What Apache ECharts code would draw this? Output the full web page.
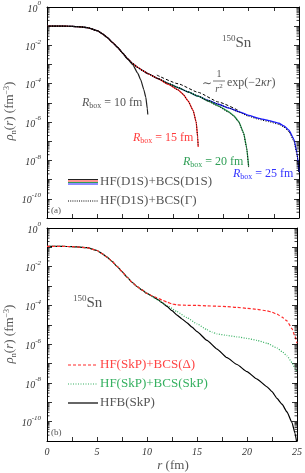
<!DOCTYPE html>
<html><head><meta charset="utf-8">
<script src="https://cdn.jsdelivr.net/npm/echarts@6/dist/echarts.min.js"></script>
<style>html,body{margin:0;padding:0;background:#fff}#c{width:305px;height:473px}</style>
</head><body><div id="c"></div>
<script>
// ---------- Panel (a): HF(D1S)+BCS(D1S), box sizes ----------
const rBox25 = [0,1,2,3,4,5,5.5,6,6.5,7,7.5,8,8.5,9,9.5,10,11,12,13,14,15,16,17,18,19,20,21,22,23,23.5,24,24.5,24.8,25];
const rhoBox25 = [0.1,0.1,0.099,0.095,0.085,0.058,0.0398,0.0251,0.0141,7.94e-3,3.98e-3,2.0e-3,1.12e-3,7.08e-4,4.79e-4,3.39e-4,1.86e-4,1.05e-4,6.31e-5,3.72e-5,2.24e-5,1.35e-5,8.51e-6,5.50e-6,3.55e-6,2.24e-6,1.58e-6,1.20e-6,8.71e-7,6.31e-7,3.80e-7,1.26e-7,2.51e-8,2.51e-9];
const rhoBox25G = [0.1,0.1,0.099,0.095,0.085,0.058,0.0398,0.0251,0.0141,7.94e-3,3.98e-3,2.0e-3,1.12e-3,7.08e-4,4.79e-4,3.39e-4,1.86e-4,1.05e-4,6.31e-5,3.72e-5,2.24e-5,1.35e-5,8.51e-6,5.50e-6,3.40e-6,2.0e-6,1.38e-6,1.05e-6,7.59e-7,5.50e-7,3.16e-7,1.0e-7,2.0e-8,2.0e-9];

const rBox20 = [0,1,2,3,4,5,5.5,6,6.5,7,7.5,8,8.5,9,9.5,10,11,12,13,14,15,16,17,18,18.5,19,19.5,19.8,20];
const rhoBox20 = [0.1,0.1,0.099,0.095,0.085,0.058,0.0398,0.0251,0.0141,7.94e-3,3.98e-3,2.0e-3,1.12e-3,7.08e-4,4.79e-4,3.39e-4,1.86e-4,1.05e-4,6.31e-5,3.72e-5,2.24e-5,1.26e-5,7.08e-6,3.55e-6,2.24e-6,1.12e-6,2.82e-7,5.01e-8,5.01e-9];
const rhoBox20G = [0.1,0.1,0.099,0.095,0.085,0.058,0.0398,0.0251,0.0141,7.94e-3,3.98e-3,2.0e-3,1.12e-3,7.08e-4,4.79e-4,3.39e-4,1.86e-4,1.05e-4,6.31e-5,3.72e-5,2.24e-5,1.20e-5,6.60e-6,3.30e-6,2.10e-6,1.05e-6,2.60e-7,4.50e-8,4.5e-9];

const rBox15 = [0,1,2,3,4,5,5.5,6,6.5,7,7.5,8,8.5,9,9.5,10,11,12,13,13.5,14,14.5,14.8,14.95,15];
const rhoBox15 = [0.1,0.1,0.099,0.095,0.085,0.058,0.0398,0.0251,0.0141,7.94e-3,3.98e-3,2.0e-3,1.12e-3,7.08e-4,4.79e-4,3.39e-4,1.86e-4,9.55e-5,4.79e-5,2.82e-5,1.26e-5,3.98e-6,1.0e-6,1.58e-7,5.01e-8];

const rBox10 = [0,1,2,3,4,5,5.5,6,6.5,7,7.5,8,8.5,9,9.3,9.6,9.8,9.95,10];
const rhoBox10 = [0.1,0.1,0.099,0.095,0.085,0.058,0.0398,0.0251,0.0141,7.94e-3,3.98e-3,1.91e-3,1.0e-3,3.55e-4,1.58e-4,5.01e-5,2.0e-5,5.01e-6,2.51e-6];

// asymptotic guide ~ 1/r^2 exp(-2 kappa r)
const rAsym = [10.9,13,15,17,19.1];
const rhoAsym = [2.82e-4,1.0e-4,3.55e-5,1.12e-5,3.80e-6];

// ---------- Panel (b): SkP ----------
const rSkP = [0,1,2,3,4,5,5.5,6,6.5,7,7.5,8,8.5,9,9.5,10,10.5,11,11.5,12,12.5,13,13.5,14,14.5,15,16,17,18,19,20,21,22,22.5,23,23.5,24,24.5,24.8,24.95];
const rhoHFB = [0.112,0.112,0.111,0.106,0.096,0.069,0.0479,0.0316,0.0191,0.0105,5.62e-3,2.95e-3,1.58e-3,9.55e-4,6.31e-4,4.17e-4,3.02e-4,2.14e-4,1.41e-4,8.91e-5,5.37e-5,3.16e-5,2.0e-5,1.26e-5,7.59e-6,4.47e-6,1.58e-6,5.62e-7,2.0e-7,8.91e-8,3.80e-8,1.58e-8,6.31e-9,3.55e-9,1.58e-9,7.94e-10,3.16e-10,8.91e-11,2.51e-11,1.0e-11];

const rBCS = [0,1,2,3,4,5,5.5,6,6.5,7,7.5,8,8.5,9,9.5,10,10.5,11,11.5,12,12.5,13,14,15,16,17,18,19,20,21,22,22.5,23,23.5,24,24.5,24.8,25];
const rhoBCSDelta = [0.112,0.112,0.111,0.106,0.096,0.069,0.0479,0.0316,0.0191,0.0105,5.62e-3,2.95e-3,1.58e-3,9.55e-4,6.31e-4,4.17e-4,3.16e-4,2.51e-4,1.91e-4,1.48e-4,1.20e-4,1.07e-4,1.02e-4,1.0e-4,9.55e-5,9.12e-5,8.71e-5,7.94e-5,7.08e-5,6.31e-5,5.25e-5,4.47e-5,3.55e-5,2.51e-5,1.58e-5,6.31e-6,2.51e-6,1.12e-6];

const rBCS2 = [0,1,2,3,4,5,5.5,6,6.5,7,7.5,8,8.5,9,9.5,10,11,12,13,14,15,16,16.5,17,18,19,20,21,22,23,23.5,24,24.5,24.8,25];
const rhoBCSSkP = [0.112,0.112,0.111,0.106,0.096,0.069,0.0479,0.0316,0.0191,0.0105,5.62e-3,2.95e-3,1.58e-3,9.55e-4,6.31e-4,4.17e-4,2.0e-4,1.0e-4,4.79e-5,2.34e-5,1.12e-5,5.62e-6,4.17e-6,3.39e-6,2.82e-6,2.40e-6,2.0e-6,1.58e-6,1.12e-6,6.31e-7,4.17e-7,2.51e-7,1.12e-7,5.62e-8,3.55e-8];

const xTickLabels = ['0','5','10','15','20','25'];

// ---------- helpers ----------
const zip = (xs, ys) => xs.map((x, i) => [x, ys[i]]);
const SERIF = '"Liberation Serif","DejaVu Serif",serif';
const TXT = '#555';
const RED = '#ff2a2a', GREEN = '#2e9e55', BLUE = '#1a1aff';

const minorVals = [];
for (let k = -11; k < 0; k++) for (let m = 2; m <= 9; m++) minorVals.push(m * Math.pow(10, k));

function minorTicks(xi, yi) {
  return {
    type: 'custom', xAxisIndex: xi, yAxisIndex: yi, silent: true, clip: false, z: 10,
    data: minorVals.map(v => [0, v]),
    renderItem(params, api) {
      const v = api.value(1);
      const a = api.coord([0, v]), b = api.coord([25, v]);
      return { type: 'group', children: [
        { type: 'line', shape: { x1: a[0], y1: a[1], x2: a[0] + 2.5, y2: a[1] }, style: { stroke: '#000', lineWidth: 0.8 } },
        { type: 'line', shape: { x1: b[0] - 2.5, y1: b[1], x2: b[0], y2: b[1] }, style: { stroke: '#000', lineWidth: 0.8 } }
      ]};
    }
  };
}

function xAxis(grid, pos, showLabel) {
  return {
    type: 'value', gridIndex: grid, position: pos, min: 0, max: 25, interval: 2.5,
    axisLine: { show: true, onZero: false, lineStyle: { color: '#000', width: 1 } },
    axisTick: { show: true, inside: true, length: 4, lineStyle: { color: '#000', width: 0.8 } },
    splitLine: { show: false },
    axisLabel: {
      show: showLabel, margin: 6, color: '#333', fontFamily: SERIF, fontStyle: 'italic', fontSize: 10,
      formatter: v => (Math.abs(v / 5 - Math.round(v / 5)) < 1e-6 ? xTickLabels[Math.round(v / 5)] : '')
    }
  };
}
function yAxis(grid, pos, showLabel) {
  return {
    type: 'log', logBase: 10, gridIndex: grid, position: pos, min: 1e-11, max: 1, interval: 1, splitNumber: 20,
    axisLine: { show: true, onZero: false, lineStyle: { color: '#000', width: 1 } },
    axisTick: { show: true, inside: true, length: 5, lineStyle: { color: '#000', width: 0.8 } },
    splitLine: { show: false }, minorTick: { show: false },
    axisLabel: {
      show: showLabel, margin: 6, color: '#333', showMinLabel: true, showMaxLabel: true,
      formatter: v => {
        const e = Math.round(Math.log10(v));
        if (e % 2 !== 0) return '';
        return '{b|10}{s|' + (e === 0 ? '0' : '-' + (-e)) + '}';
      },
      rich: {
        b: { fontFamily: SERIF, fontStyle: 'italic', fontSize: 10, color: '#333', verticalAlign: 'bottom', lineHeight: 14 },
        s: { fontFamily: SERIF, fontStyle: 'italic', fontSize: 7, color: '#333', verticalAlign: 'top', lineHeight: 14 }
      }
    }
  };
}

function line(xi, yi, xs, ys, color, type, width, z) {
  return {
    type: 'line', xAxisIndex: xi, yAxisIndex: yi, data: zip(xs, ys), showSymbol: false, symbol: 'none',
    smooth: 0.15, smoothMonotone: 'x', clip: true, silent: true, z: z || 2,
    lineStyle: { color, width, type }
  };
}

const richBase = {
  i: { fontFamily: SERIF, fontStyle: 'italic', fontSize: 12 },
  n: { fontFamily: SERIF, fontSize: 12 },
  sub: { fontFamily: SERIF, fontSize: 8, padding: [6, 0, 0, 0] }
};
function colorRich(c) {
  const r = {};
  for (const k in richBase) r[k] = Object.assign({}, richBase[k], { fill: c });
  return r;
}
function rboxLabel(x, y, val, c) {
  return { type: 'text', x, y, z: 50,
    style: { text: '{i|R}{sub|box}{n| = ' + val + ' fm}', rich: colorRich(c), fill: c, verticalAlign: 'middle' } };
}
function snLabel(x, y) {
  return { type: 'text', x, y, z: 50,
    style: { text: '{s|150}{n|Sn}', fill: TXT, verticalAlign: 'middle',
      rich: { s: { fontFamily: SERIF, fontSize: 9, fill: TXT, padding: [0, 0, 8, 0] }, n: { fontFamily: SERIF, fontSize: 15, fill: TXT } } } };
}
function legendLine(x1, x2, y, color, dash, w) {
  return { type: 'line', z: 50, shape: { x1, y1: y, x2, y2: y }, style: { stroke: color, lineWidth: w || 1.2, lineDash: dash || null } };
}
function legendText(x, y, text, color) {
  return { type: 'text', x, y, z: 50, style: { text, fill: color, font: '13px ' + SERIF, verticalAlign: 'middle' } };
}
function yName(y) {
  return { type: 'text', x: 10, y, rotation: Math.PI / 2, z: 50,
    style: { text: '{i|ρ}{sub|n}{n|(}{i|r}{n|) (fm}{sup|−3}{n|)}', fill: TXT, align: 'center', verticalAlign: 'middle',
      rich: {
        i: { fontFamily: SERIF, fontStyle: 'italic', fontSize: 13, fill: TXT },
        n: { fontFamily: SERIF, fontSize: 13, fill: TXT },
        sub: { fontFamily: SERIF, fontSize: 8, fill: TXT, padding: [7, 0, 0, 0] },
        sup: { fontFamily: SERIF, fontSize: 8, fill: TXT, padding: [0, 0, 7, 0] }
      } } };
}

const chart = echarts.init(document.getElementById('c'), null, { renderer: 'canvas' });
chart.setOption({
  backgroundColor: '#fff',
  animation: false,
  grid: [
    { left: 47, right: 6, top: 5, height: 213 },
    { left: 47, right: 6, top: 228, height: 213 }
  ],
  xAxis: [xAxis(0, 'bottom', false), xAxis(0, 'top', false), xAxis(1, 'bottom', true), xAxis(1, 'top', false)],
  yAxis: [yAxis(0, 'left', true), yAxis(0, 'right', false), yAxis(1, 'left', true), yAxis(1, 'right', false)],
  series: [
    line(0, 0, rBox25, rhoBox25, BLUE, 'solid', 1.3),
    line(0, 0, rBox20, rhoBox20, GREEN, 'solid', 1.3),
    line(0, 0, rBox15, rhoBox15, RED, 'solid', 1.3),
    line(0, 0, rBox10, rhoBox10, '#222', 'solid', 1.2),
    line(0, 0, rBox25, rhoBox25G, '#000', [1, 1.5], 1, 3),
    line(0, 0, rBox20, rhoBox20G, '#000', [1, 1.5], 1, 3),
    line(0, 0, rBox15, rhoBox15, '#000', [1, 1.5], 1, 3),
    line(0, 0, rAsym, rhoAsym, '#000', [3, 2], 1, 3),
    line(2, 2, rSkP, rhoHFB, '#000', 'solid', 1.2),
    line(2, 2, rBCS2, rhoBCSSkP, '#35b060', [1, 1.5], 1.2, 3),
    line(2, 2, rBCS, rhoBCSDelta, RED, [3, 2], 1.2, 3),
    minorTicks(0, 0),
    minorTicks(2, 2)
  ],
  graphic: [
    yName(111), yName(334),
    { type: 'text', x: 173, y: 466, z: 50, style: { text: '{i|r}{n| (fm)}', fill: TXT, align: 'center', verticalAlign: 'middle',
      rich: { i: { fontFamily: SERIF, fontStyle: 'italic', fontSize: 13, fill: TXT }, n: { fontFamily: SERIF, fontSize: 13, fill: TXT } } } },
    snLabel(222, 43), snLabel(73, 303),
    // asymptote annotation
    { type: 'text', x: 202, y: 84, z: 50, style: { text: '∼', fill: TXT, font: '12px ' + SERIF, verticalAlign: 'middle' } },
    { type: 'text', x: 219, y: 74, z: 50, style: { text: '1', fill: TXT, font: '10px ' + SERIF, align: 'center', verticalAlign: 'middle' } },
    { type: 'line', z: 50, shape: { x1: 213, y1: 81, x2: 225, y2: 81 }, style: { stroke: TXT, lineWidth: 0.8 } },
    { type: 'text', x: 219, y: 89, z: 50, style: { text: '{i|r}{s|2}', fill: TXT, align: 'center', verticalAlign: 'middle',
      rich: { i: { fontFamily: SERIF, fontStyle: 'italic', fontSize: 10, fill: TXT }, s: { fontFamily: SERIF, fontSize: 7, fill: TXT, padding: [0, 0, 5, 0] } } } },
    { type: 'text', x: 227, y: 83, z: 50, style: { text: '{n|exp(−2}{i|κr}{n|)}', fill: TXT, verticalAlign: 'middle',
      rich: { i: { fontFamily: SERIF, fontStyle: 'italic', fontSize: 12, fill: TXT }, n: { fontFamily: SERIF, fontSize: 12, fill: TXT } } } },
    rboxLabel(82, 103, '10', '#555'),
    rboxLabel(133, 138, '15', '#ff3b3b'),
    rboxLabel(183, 162, '20', '#2e9e55'),
    rboxLabel(233, 174, '25', '#3333ff'),
    // legend (a)
    legendLine(68, 98, 179.5, '#222', null, 1),
    legendLine(68, 98, 181, RED, null, 1),
    legendLine(68, 98, 182.5, GREEN, null, 1),
    legendLine(68, 98, 184, BLUE, null, 1),
    legendText(100, 182, 'HF(D1S)+BCS(D1S)', TXT),
    legendLine(68, 98, 201, '#000', [1, 1.2], 1),
    legendText(100, 201, 'HF(D1S)+BCS(Γ)', TXT),
    { type: 'text', x: 51, y: 211, z: 50, style: { text: '(a)', fill: TXT, font: '9px ' + SERIF, verticalAlign: 'middle' } },
    // legend (b)
    legendLine(68, 98, 365, RED, [3, 2], 1.2),
    legendText(100, 365, 'HF(SkP)+BCS(Δ)', '#ff4444'),
    legendLine(68, 98, 384, '#35b060', [1, 1.5], 1.2),
    legendText(100, 384, 'HF(SkP)+BCS(SkP)', '#35b060'),
    legendLine(68, 98, 403, '#666', null, 2),
    legendText(100, 403, 'HFB(SkP)', TXT),
    { type: 'text', x: 51, y: 433, z: 50, style: { text: '(b)', fill: TXT, font: '9px ' + SERIF, verticalAlign: 'middle' } }
  ]
});
</script>
</body></html>
